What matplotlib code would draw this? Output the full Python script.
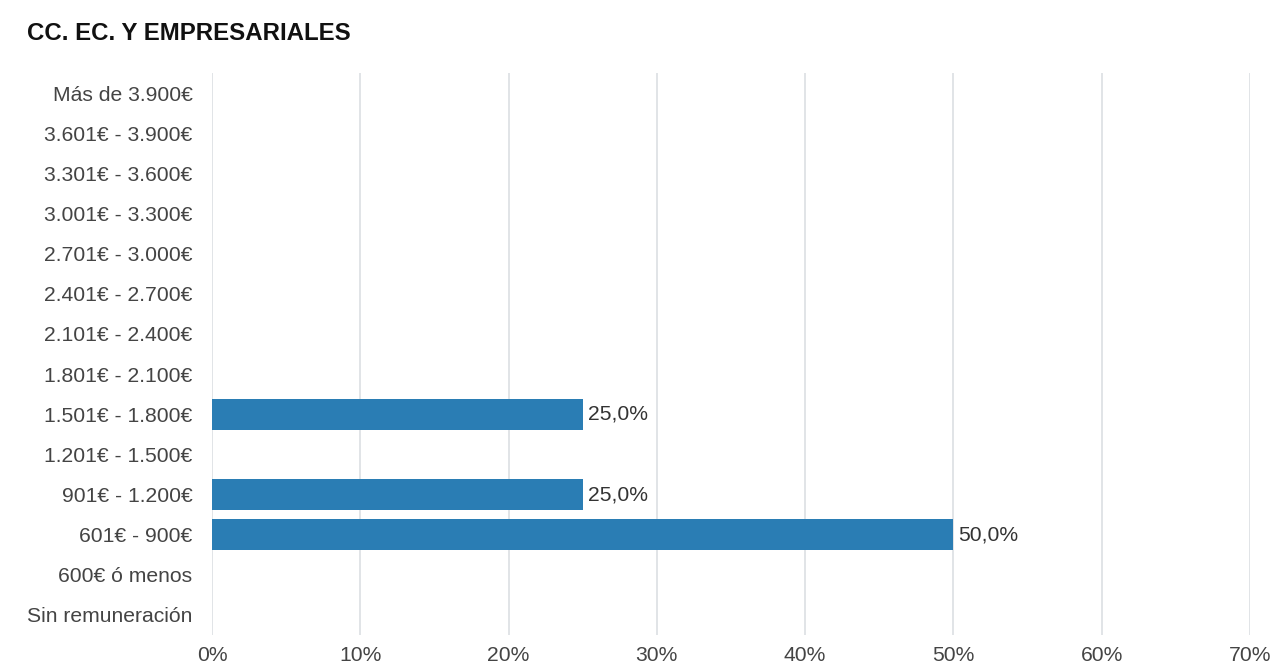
import matplotlib
matplotlib.use('Agg')
import matplotlib.pyplot as plt
from matplotlib.ticker import FuncFormatter

# salary ranges, listed top to bottom as in the chart
categories = ['Más de 3.900€', '3.601€ - 3.900€', '3.301€ - 3.600€',
              '3.001€ - 3.300€', '2.701€ - 3.000€', '2.401€ - 2.700€',
              '2.101€ - 2.400€', '1.801€ - 2.100€', '1.501€ - 1.800€',
              '1.201€ - 1.500€', '901€ - 1.200€', '601€ - 900€',
              '600€ ó menos', 'Sin remuneración']
percent = [0, 0, 0, 0, 0, 0, 0, 0, 25.0, 0, 25.0, 50.0, 0, 0]
x_ticks = [0, 10, 20, 30, 40, 50, 60, 70]

plt.rcParams['font.family'] = ['Liberation Sans', 'DejaVu Sans']

fig = plt.figure(figsize=(12.71, 6.65), dpi=100)
ax = fig.add_axes([212 / 1271, 1 - 635 / 665, (1250 - 212) / 1271, (635 - 73) / 665])

ypos = list(range(len(categories)))
ax.barh(ypos, percent, height=0.77, color='#2a7db4', linewidth=0, zorder=3)

for y, v in zip(ypos, percent):
  if v > 0:
    ax.text(v + 0.35, y, f'{v:.1f}%'.replace('.', ','), va='center',
            ha='left', fontsize=15.2, color='#333333')

ax.set_ylim(len(categories) - 0.5, -0.5)
ax.set_xlim(0, 70)
ax.set_yticks(ypos)
ax.set_yticklabels(categories)
ax.set_xticks(x_ticks)
ax.xaxis.set_major_formatter(FuncFormatter(lambda v, p: f'{v:.0f}%'))
ax.tick_params(axis='both', length=0, labelsize=15.2, colors='#444444')
ax.tick_params(axis='y', pad=14)
ax.tick_params(axis='x', pad=8)
for s in ax.spines.values():
  s.set_visible(False)
ax.xaxis.grid(True, color='#dcdfe3', linewidth=1.2, zorder=0)
ax.set_axisbelow(True)

fig.text(27 / 1271, 1 - 33 / 665, 'CC. EC. Y EMPRESARIALES', fontsize=17.3,
         fontweight='bold', color='#111111', va='center', ha='left')

fig.savefig('out.png', dpi=100)
